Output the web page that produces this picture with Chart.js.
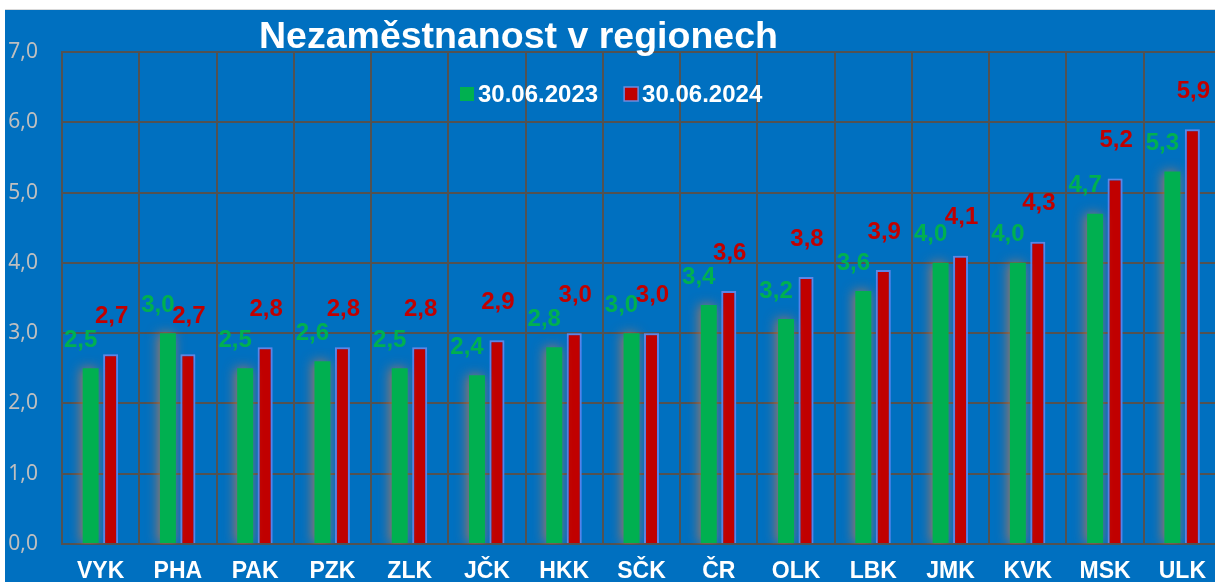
<!DOCTYPE html>
<html>
<head>
<meta charset="utf-8">
<script src="https://cdn.jsdelivr.net/npm/chart.js@4"></script>
<style>
    body { margin: 0; background: #fff; overflow: hidden; }
    #graf { position: absolute; left: 5px; top: 9px; width: 1222px; height: 573px; background: #0070C0; border-top: 1px solid #d9d9d9; }
</style>
</head>
<body>
<div id="graf"><canvas id="myChart" width="1222" height="573"></canvas></div>
<script>
const regiony = ['VYK', 'PHA', 'PAK', 'PZK', 'ZLK', 'JČK', 'HKK', 'SČK', 'ČR', 'OLK', 'LBK', 'JMK', 'KVK', 'MSK', 'ULK'];
const rok2023 = [2.5, 3.0, 2.5, 2.6, 2.5, 2.4, 2.8, 3.0, 3.4, 3.2, 3.6, 4.0, 4.0, 4.7, 5.3];
const rok2024 = [2.7, 2.7, 2.8, 2.8, 2.8, 2.9, 3.0, 3.0, 3.6, 3.8, 3.9, 4.1, 4.3, 5.2, 5.9];
const popisky = ['30.06.2023', '30.06.2024'];
const nadpis = 'Nezaměstnanost v regionech';

const zelena = '#00B050';
const cervena = '#C00000';
const pismo = '"Liberation Sans", Arial, sans-serif';
const carky = v => v.toFixed(1).replace('.', ',');

// glow kolem sloupcu
const zare = {
    id: 'zare',
    beforeDatasetDraw(chart, args) {
        const ctx = chart.ctx;
        ctx.save();
        if (args.index === 0) {
            ctx.shadowColor = 'rgba(205,120,70,0.8)';
            ctx.shadowBlur = 12;
            ctx.shadowOffsetX = -2;
        } else {
            ctx.shadowColor = 'rgba(40,120,255,0.9)';
            ctx.shadowBlur = 14;
        }
    },
    afterDatasetDraw(chart) {
        chart.ctx.restore();
    }
};

const texty = {
    id: 'texty',
    afterDraw(chart) {
        const ctx = chart.ctx;
        ctx.save();
        // hodnoty nad sloupci
        ctx.font = 'bold 24px ' + pismo;
        ctx.textAlign = 'center';
        ctx.textBaseline = 'middle';
        chart.data.datasets.forEach((ds, i) => {
            const meta = chart.getDatasetMeta(i);
            const dx = i === 0 ? -10 : 1;
            const dy = i === 0 ? -28 : -38;
            ctx.fillStyle = ds.backgroundColor;
            meta.data.forEach((bar, j) => {
                ctx.fillText(carky(ds.data[j]), bar.x + dx, bar.y + dy);
            });
        });

        // legenda
        ctx.textAlign = 'left';
        let x = 455;
        const y = 84;
        chart.data.datasets.forEach((ds, i) => {
            ctx.fillStyle = ds.backgroundColor;
            ctx.fillRect(x, y - 7, 14, 14);
            if (i === 1) {
                ctx.strokeStyle = ds.borderColor;
                ctx.lineWidth = 1.5;
                ctx.strokeRect(x, y - 7, 14, 14);
            }
            ctx.fillStyle = '#fff';
            ctx.fillText(ds.label, x + 18, y + 1);
            x += 18 + ctx.measureText(ds.label).width + 26;
        });

        // nadpis
        ctx.font = 'bold 37.5px ' + pismo;
        ctx.textBaseline = 'alphabetic';
        ctx.fillStyle = '#fff';
        ctx.fillText(nadpis, 254, 38);
        ctx.restore();
    }
};

new Chart(document.getElementById('myChart'), {
    type: 'bar',
    data: {
        labels: regiony,
        datasets: [{
            label: popisky[0],
            data: rok2023,
            backgroundColor: zelena,
            barPercentage: 0.8,
            categoryPercentage: 0.517
        }, {
            label: popisky[1],
            data: rok2024,
            backgroundColor: cervena,
            borderColor: '#6A8CE0',
            borderWidth: 2,
            borderSkipped: 'bottom',
            barPercentage: 0.75,
            categoryPercentage: 0.517
        }]
    },
    options: {
        responsive: false,
        animation: false,
        layout: { padding: { top: 42, right: 6, left: 0, bottom: 0 } },
        plugins: {
            legend: { display: false },
            title: { display: false },
            tooltip: { enabled: false }
        },
        scales: {
            x: {
                grid: { color: '#525252', lineWidth: 2, drawTicks: false },
                border: { color: '#525252', width: 2 },
                ticks: { color: '#fff', padding: 14, font: { family: pismo, size: 23, weight: 'bold' } },
                afterFit(scale) { scale.height = 39; }
            },
            y: {
                min: 0,
                max: 7,
                grid: { color: '#525252', lineWidth: 2, drawTicks: false },
                border: { color: '#525252', width: 2 },
                ticks: {
                    stepSize: 1,
                    color: '#BFBFBF',
                    padding: 24,
                    font: { family: '"Noto Sans", sans-serif', size: 21 },
                    callback: v => carky(v)
                },
                afterFit(scale) { scale.width = 57; }
            }
        }
    },
    plugins: [zare, texty]
});
</script>
</body>
</html>
